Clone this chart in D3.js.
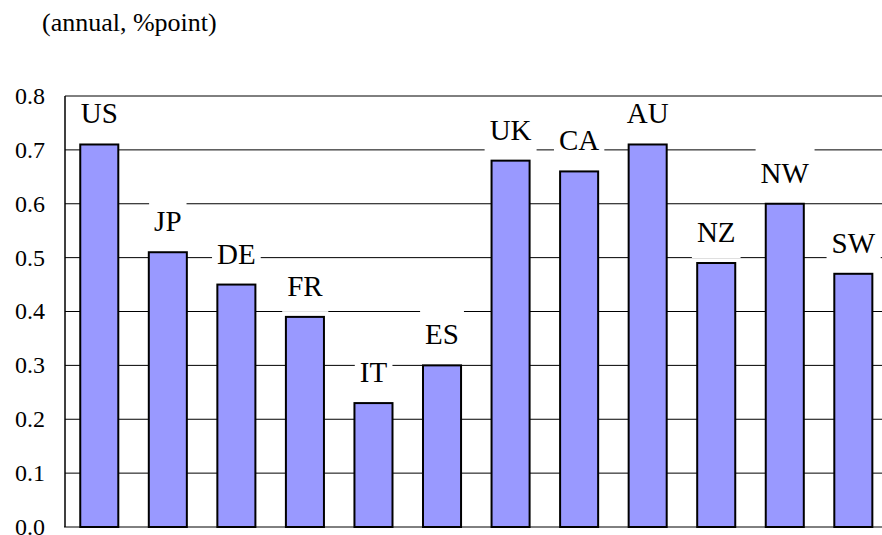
<!DOCTYPE html>
<html>
<head>
<meta charset="utf-8">
<script src="https://cdn.jsdelivr.net/npm/d3@7"></script>
<style>
  html, body { margin: 0; padding: 0; background: #fff; }
  svg { display: block; }
</style>
</head>
<body>
<svg id="chart" width="882" height="535"></svg>
<script>
const categories = ["US", "JP", "DE", "FR", "IT", "ES", "UK", "CA", "AU", "NZ", "NW", "SW"];
const values = [0.71, 0.51, 0.45, 0.39, 0.23, 0.30, 0.68, 0.66, 0.71, 0.49, 0.60, 0.47];
const yTicks = [0.0, 0.1, 0.2, 0.3, 0.4, 0.5, 0.6, 0.7, 0.8];
const yTickLabels = ["0.0", "0.1", "0.2", "0.3", "0.4", "0.5", "0.6", "0.7", "0.8"];
const title = "(annual, %point)";

(function () {
const FONT = "'Liberation Serif', Tinos, 'Times New Roman', 'DejaVu Serif', serif";
const svg = d3.select("#chart");
const mLeft = 65, mTop = 96, mBottom = 527;
const step = 68.55;
const mRight = mLeft + step * categories.length;

const x = d3.scaleBand().domain(categories).range([mLeft, mRight])
  .paddingInner(0.445).paddingOuter(0.2225);
const y = d3.scaleLinear().domain([0, 0.8]).range([mBottom, mTop]);

// title
svg.append("text").attr("x", 42).attr("y", 30.5)
  .style("font-family", FONT)
  .attr("font-size", 26).attr("fill", "#000").text(title);

// gridlines
svg.append("g").selectAll("line").data(yTicks.filter(d => d > 0 && d < 0.8)).join("line")
  .attr("x1", mLeft).attr("x2", mRight)
  .attr("y1", d => y(d)).attr("y2", d => y(d))
  .attr("stroke", "#000").attr("stroke-width", 1);

// bars
svg.append("g").selectAll("rect").data(values).join("rect")
  .attr("x", (d, i) => x(categories[i]))
  .attr("y", d => y(d))
  .attr("width", x.bandwidth())
  .attr("height", d => mBottom - y(d))
  .attr("fill", "#9999ff")
  .attr("stroke", "#000").attr("stroke-width", 2);

// labels with white boxes
const lab = svg.append("g").selectAll("g").data(values).join("g");
lab.append("text")
  .attr("x", (d, i) => x(categories[i]) + x.bandwidth() / 2)
  .attr("y", d => y(d) - 21)
  .attr("text-anchor", "middle")
  .style("font-family", FONT)
  .attr("font-size", 29).attr("fill", "#000")
  .text((d, i) => categories[i]);
lab.each(function (d) {
  const g = d3.select(this);
  const t = g.select("text");
  const bb = t.node().getBBox();
  const base = y(d) - 21;
  g.insert("rect", "text")
    .attr("x", bb.x - 5).attr("width", bb.width + 10)
    .attr("y", base - 34).attr("height", 50)
    .attr("fill", "#fff");
});

// frame: top border, left axis, bottom axis
svg.append("line").attr("x1", mLeft).attr("x2", mRight)
  .attr("y1", y(0.8)).attr("y2", y(0.8)).attr("stroke", "#000").attr("stroke-width", 1);
svg.append("line").attr("x1", mLeft).attr("x2", mLeft)
  .attr("y1", y(0.8)).attr("y2", y(0)).attr("stroke", "#000").attr("stroke-width", 1.5);
svg.append("line").attr("x1", mLeft - 1).attr("x2", mRight)
  .attr("y1", y(0)).attr("y2", y(0)).attr("stroke", "#000").attr("stroke-width", 1);

// y tick labels
svg.append("g").selectAll("text").data(yTicks).join("text")
  .attr("x", 45).attr("y", d => y(d))
  .attr("dy", "0.33em")
  .attr("text-anchor", "end")
  .style("font-family", FONT)
  .attr("font-size", 24).attr("fill", "#000")
  .text((d, i) => yTickLabels[i]);
})();
</script>
</body>
</html>
